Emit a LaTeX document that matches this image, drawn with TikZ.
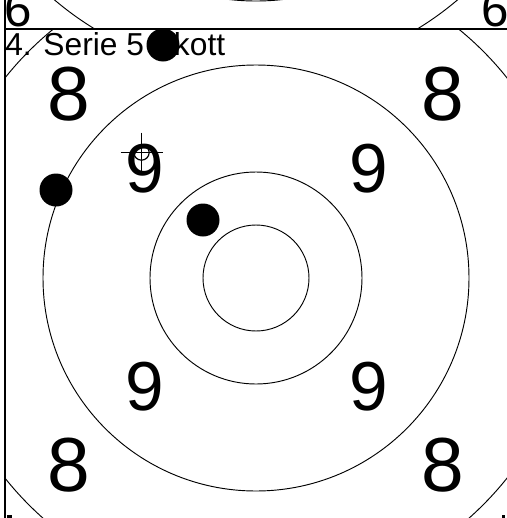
\documentclass[tikz,border=0pt]{standalone}
\usepackage{fontspec}
\setmainfont{Liberation Sans}
\begin{document}
\begin{tikzpicture}[x=0.75pt,y=-0.75pt,
  ring/.style={draw=black,line width=0.7pt},
  frame/.style={draw=black,line width=1pt},
  eight/.style={font=\fontsize{57.5}{57.5}\selectfont,inner sep=0pt},
  nine/.style={font=\fontsize{52}{52}\selectfont,inner sep=0pt},
  six/.style={font=\fontsize{37}{37}\selectfont,inner sep=0pt,anchor=base west},
  title/.style={font=\fontsize{23.8}{23.8}\selectfont,inner sep=0pt,anchor=base west},
  shot/.style={circle,fill=black,minimum size=24.75pt,inner sep=0pt},
  aim/.style={circle,draw=black,line width=0.9pt,minimum size=11.5pt,inner sep=0pt},
]
\useasboundingbox (0,0) rectangle (507,518);
% previous series, cut off by the frame
\begin{scope}
\clip (5,0) rectangle (507,29);
\draw[ring] (256,-237) circle[radius=238];
\draw[ring] (256,-237) circle[radius=311];
\node[six] (sixl) at (4,26) {6};
\node[six] (sixr) at (481,26) {6};
\end{scope}
% this series
\begin{scope}
\clip (5,29) rectangle (507,518);
\draw[ring] (256,278) circle[radius=53];
\draw[ring] (256,278) circle[radius=106];
\draw[ring] (256,278) circle[radius=213];
\draw[ring] (256,278) circle[radius=321];
\node[eight] (e8tl) at (69,94) {8};
\node[eight] (e8tr) at (443,94) {8};
\node[eight] (e8bl) at (69,465) {8};
\node[eight] (e8br) at (443,465) {8};
\node[nine] (n9tl) at (145,169) {9};
\node[nine] (n9tr) at (369,169) {9};
\node[nine] (n9bl) at (145,387) {9};
\node[nine] (n9br) at (369,387) {9};
\node[title] (head) at (5,55) {4. Serie 5 Skott};
\node[shot] (shot1) at (163,45) {};
\node[shot] (shot2) at (56,190) {};
\node[shot] (shot3) at (203,220) {};
\node[aim] (aim) at (141.5,152.5) {};
\draw[line width=0.9pt] ([xshift=-15.75pt]aim.center) -- ([xshift=15.75pt]aim.center);
\draw[line width=0.9pt] ([yshift=15pt]aim.center) -- ([yshift=-15pt]aim.center);
\fill (7,515) rectangle (12,518);
\fill (502,515) rectangle (505,518);
\end{scope}
\draw[frame] (5,0) -- (5,518);
\draw[frame] (5,29) -- (507,29);
\end{tikzpicture}
\end{document}
